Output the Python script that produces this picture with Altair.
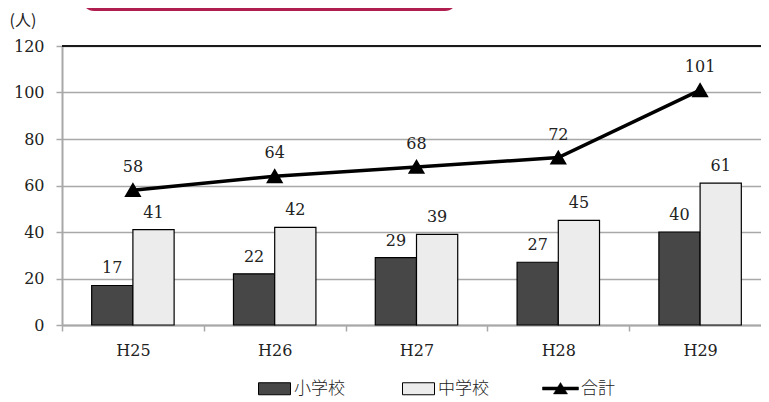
import altair as alt
import pandas as pd

# ---- data ----
years = ["H25", "H26", "H27", "H28", "H29"]
elementary = [17, 22, 29, 27, 40]      # 小学校
junior = [41, 42, 39, 45, 61]          # 中学校
total = [58, 64, 68, 72, 101]          # 合計
bar_series = ["小学校", "中学校"]
line_series = ["合計"]
y_ticks = [0, 20, 40, 60, 80, 100, 120]
unit_label = "(人)"

bars_df = pd.DataFrame({
    "year": years * 2,
    "series": [bar_series[0]] * len(years) + [bar_series[1]] * len(years),
    "value": elementary + junior,
})
line_df = pd.DataFrame({
    "year": years,
    "series": line_series * len(years),
    "value": total,
})
top_df = pd.DataFrame({"value": [y_ticks[-1]]})

# ---- style ----
W, H = 699, 279
X_RANGE = 709
SERIF = "DejaVu Serif"
JP = "Noto Sans CJK JP"
GRID = "#a8a8a8"
TXT = "#222222"

x_scale = alt.Scale(domain=years, paddingInner=0, paddingOuter=0, range=[0, X_RANGE])
y_scale = alt.Scale(domain=[0, 120], nice=False)
off_scale = alt.Scale(domain=bar_series, paddingInner=0, paddingOuter=0.72)

x_enc = alt.X(
    "year:N", scale=x_scale,
    axis=alt.Axis(
        title=None, labelAngle=0, labelFont=SERIF, labelFontSize=16,
        labelColor=TXT, tickBand="extent", ticks=True, tickSize=6,
        tickColor=GRID, tickWidth=1.5, domainColor=GRID, domainWidth=2,
        labelPadding=11, grid=False,
    ),
)
y_enc = alt.Y(
    "value:Q", scale=y_scale,
    axis=alt.Axis(
        title=unit_label, titleAngle=0, titleFont=JP, titleFontSize=16,
        titleFontWeight="normal", titleColor=TXT, titleAlign="left",
        titleBaseline="middle", titleX=-53, titleY=-26,
        values=y_ticks, labelFont=SERIF, labelFontSize=16, labelColor=TXT,
        labelPadding=12, tickSize=6, tickColor=GRID, tickWidth=1.5,
        domainColor=GRID, domainWidth=2, gridColor=GRID, gridWidth=1.5,
    ),
)

rect_path = "M-1,-0.375H1V0.375H-1Z"
line_path = "M-1,-0.085H1V0.085H-1Z M-0.39,0.3L0,-0.33L0.39,0.3Z"

bars = alt.Chart(bars_df).mark_bar(stroke="black", strokeWidth=1.2).encode(
    x=x_enc,
    xOffset=alt.XOffset("series:N", scale=off_scale, sort=bar_series),
    y=y_enc,
    fill=alt.Fill(
        "series:N",
        scale=alt.Scale(domain=bar_series, range=["#474747", "#ececec"]),
        legend=alt.Legend(
            title=None, orient="none", direction="horizontal",
            legendX=196, legendY=326, symbolType=rect_path, symbolSize=1024,
            symbolStrokeColor="black", symbolStrokeWidth=1,
            labelFont=JP, labelFontSize=17, labelColor=TXT, labelOffset=3,
            labelFontWeight=300, columnPadding=55, padding=0,
        ),
    ),
)

bar_text = alt.Chart(bars_df).mark_text(
    font=SERIF, fontSize=16, color=TXT, baseline="alphabetic", dy=-12
).encode(
    x=alt.X("year:N", scale=x_scale),
    xOffset=alt.XOffset("series:N", scale=off_scale, sort=bar_series),
    y=alt.Y("value:Q", scale=y_scale),
    text="value:Q",
)

line = alt.Chart(line_df).mark_line(color="black", strokeWidth=3.5).encode(
    x=alt.X("year:N", scale=x_scale),
    y=alt.Y("value:Q", scale=y_scale),
)

points = alt.Chart(line_df).mark_point(
    shape="triangle-up", filled=True, fill="black", size=190, opacity=1
).encode(
    x=alt.X("year:N", scale=x_scale),
    y=alt.Y("value:Q", scale=y_scale),
    stroke=alt.Stroke(
        "series:N",
        scale=alt.Scale(domain=line_series, range=["black"]),
        legend=alt.Legend(
            title=None, orient="none", direction="horizontal",
            legendX=480, legendY=324, symbolType=line_path, symbolSize=1296,
            symbolFillColor="black", symbolStrokeColor="black",
            symbolStrokeWidth=0.5,
            labelFont=JP, labelFontSize=17, labelColor=TXT, labelOffset=2,
            labelFontWeight=300, padding=0,
        ),
    ),
)

line_text = alt.Chart(line_df).mark_text(
    font=SERIF, fontSize=16, color=TXT, baseline="alphabetic", dy=-18
).encode(
    x=alt.X("year:N", scale=x_scale),
    y=alt.Y("value:Q", scale=y_scale),
    text="value:Q",
)

top_rule = alt.Chart(top_df).mark_rule(color="#1a1a1a", strokeWidth=2).encode(
    y=alt.Y("value:Q", scale=y_scale),
)

banner = alt.Chart(top_df).mark_rect(
    color="#b01e4f", cornerRadius=12
).encode(
    x=alt.value(20), x2=alt.value(395), y=alt.value(-60), y2=alt.value(-35),
)

chart = alt.layer(
    banner, bars, top_rule, line, points, bar_text, line_text
).resolve_scale(
    fill="independent", stroke="independent"
).properties(
    width=W, height=H,
    autosize=alt.AutoSizeParams(type="none"),
    padding={"left": 54, "top": 38, "right": 0, "bottom": 77},
).configure_view(
    stroke=None
)

chart.save("out.html", embed_options={"renderer": "svg", "actions": False})
